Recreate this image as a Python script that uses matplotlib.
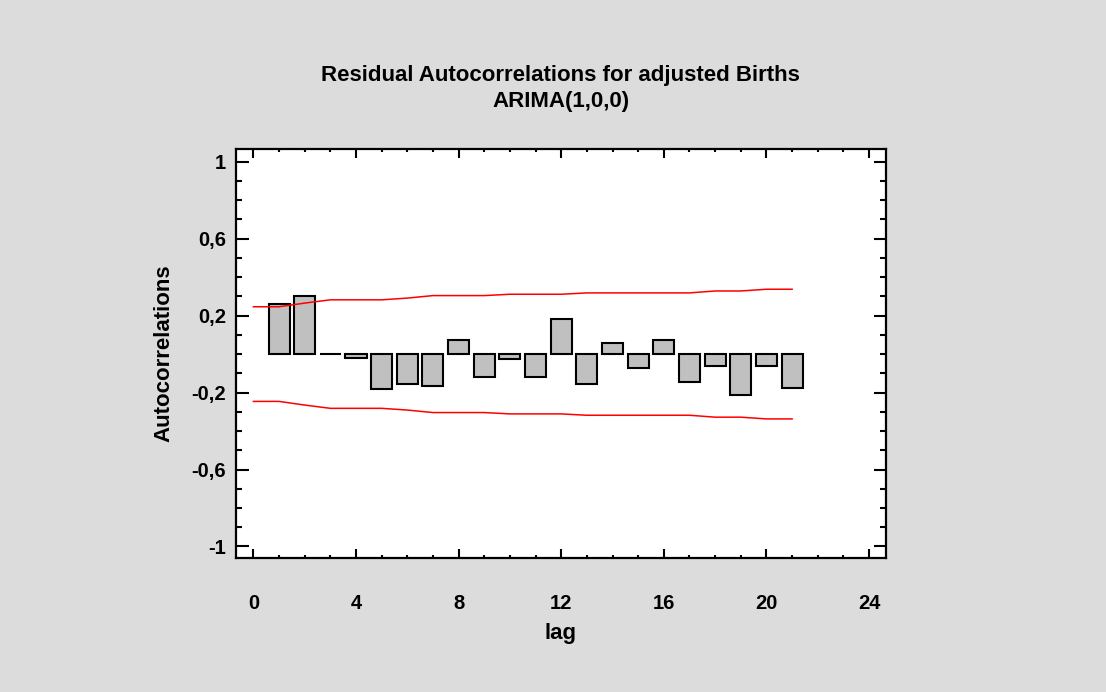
import numpy as np
import matplotlib.pyplot as plt
from matplotlib.ticker import MultipleLocator, FixedLocator

plt.rcParams['font.family'] = ['Liberation Sans', 'DejaVu Sans']
plt.rcParams['font.weight'] = 'bold'

# residual autocorrelations
lags = np.arange(1, 22)
acf = [0.258, 0.300, 0.002, -0.019, -0.182, -0.156, -0.165, 0.072, -0.118, -0.028,
       -0.119, 0.182, -0.156, 0.056, -0.074, 0.072, -0.146, -0.063, -0.211, -0.063,
       -0.174]

# 95% probability limits
limit_lags = np.arange(0, 22)
upper = [0.246, 0.246, 0.265, 0.282, 0.282, 0.282, 0.291, 0.304, 0.304, 0.304, 0.311,
         0.311, 0.311, 0.318, 0.318, 0.318, 0.318, 0.318, 0.328, 0.328, 0.337, 0.337]
lower = [-u for u in upper]

ytick_vals = [-1, -0.6, -0.2, 0.2, 0.6, 1]
ytick_labels = ['-1', '-0,6', '-0,2', '0,2', '0,6', '1']
xtick_vals = [0, 4, 8, 12, 16, 20, 24]

bg = '#dcdcdc'
fig = plt.figure(figsize=(11.06, 6.92), dpi=100, facecolor=bg)
ax = fig.add_axes([235.7 / 1106, 1 - 558 / 692, (886 - 235.7) / 1106, (558 - 149) / 692])
ax.set_facecolor('white')

ax.bar(lags, acf, width=0.82, color='#c0c0c0', edgecolor='black', linewidth=1.5, zorder=2)
ax.plot(limit_lags, upper, color='red', linewidth=1.1, zorder=3)
ax.plot(limit_lags, lower, color='red', linewidth=1.1, zorder=3)

ax.set_xlim(-0.69, 24.66)
ax.set_ylim(-1.06, 1.066)

ax.xaxis.set_major_locator(FixedLocator(xtick_vals))
ax.xaxis.set_minor_locator(MultipleLocator(1))
ax.yaxis.set_major_locator(FixedLocator(ytick_vals))
ax.set_yticklabels(ytick_labels)
ax.yaxis.set_minor_locator(MultipleLocator(0.1))

ax.tick_params(axis='both', which='both', direction='in', top=True, right=True,
               width=1.5, labelsize=14.5)
ax.tick_params(axis='y', which='major', length=9, pad=7)
ax.tick_params(axis='y', which='minor', length=4)
ax.tick_params(axis='x', which='major', length=6.5, pad=26)
ax.tick_params(axis='x', which='minor', length=2.5)
for s in ax.spines.values():
    s.set_linewidth(1.6)

ax.set_xlabel('lag', fontsize=16, fontweight='bold', labelpad=7)
ax.set_ylabel('Autocorrelations', fontsize=16, fontweight='bold', labelpad=12)

cx = (235.7 + 886) / 2 / 1106
fig.text(cx, 1 - 81 / 692, 'Residual Autocorrelations for adjusted Births', ha='center',
         va='baseline', fontsize=16, fontweight='bold')
fig.text(cx, 1 - 107 / 692, 'ARIMA(1,0,0)', ha='center', va='baseline', fontsize=16,
         fontweight='bold')

fig.savefig('out.png', dpi=100, facecolor=bg)
